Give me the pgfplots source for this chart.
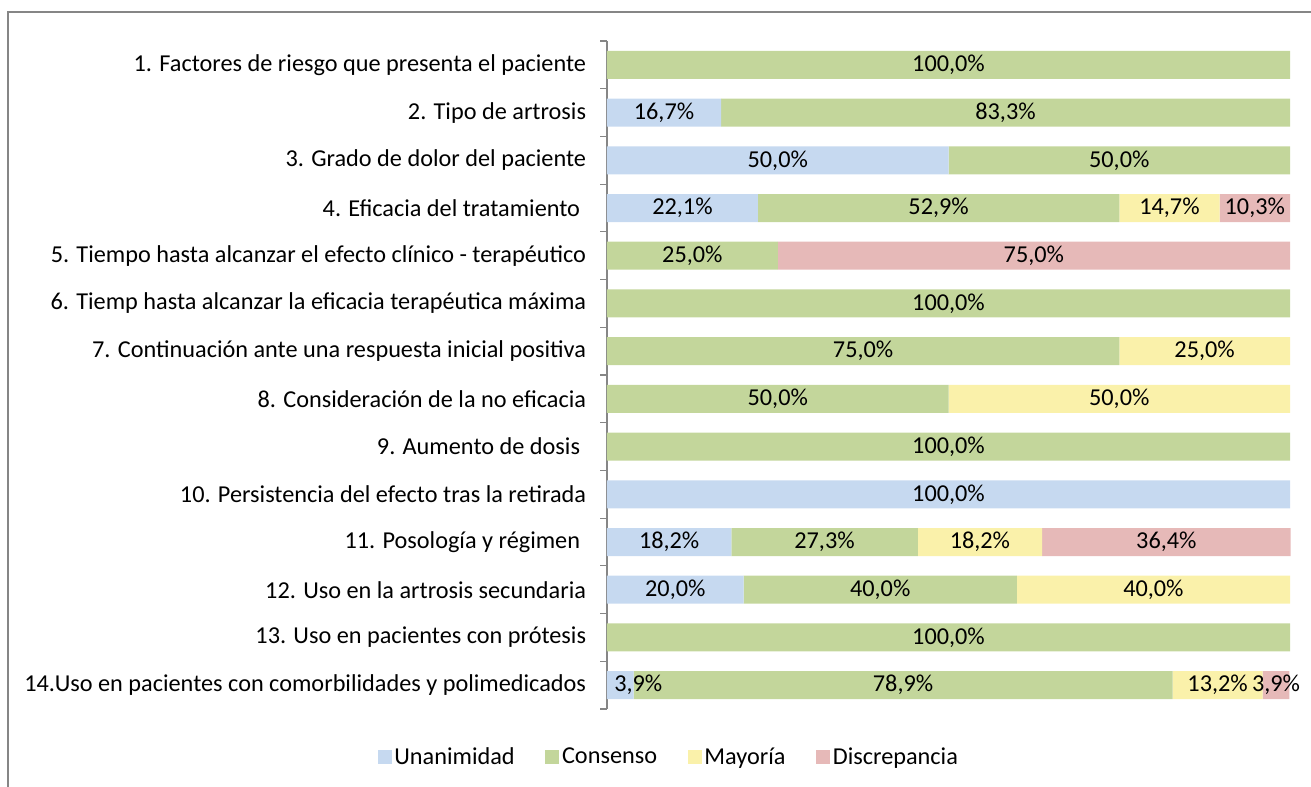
\documentclass[border=0pt]{standalone}
\usepackage{pgfplots}
\usepackage{pgfplotstable}
\pgfplotsset{compat=1.18}
\usepackage{fontspec}
\setmainfont{Carlito}
\definecolor{cU}{RGB}{198,217,240}
\definecolor{cC}{RGB}{195,214,155}
\definecolor{cM}{RGB}{250,241,170}
\definecolor{cD}{RGB}{230,185,184}
\definecolor{frm}{RGB}{134,134,134}
\newcommand{\fs}{\fontsize{18.2}{21}\selectfont}
\pgfplotstableread{
cat U C M D
1 0 100 0 0
2 16.7 83.3 0 0
3 50 50 0 0
4 22.1 52.9 14.7 10.3
5 0 25 0 75
6 0 100 0 0
7 0 75 25 0
8 0 50 50 0
9 0 100 0 0
10 100 0 0 0
11 18.2 27.3 18.2 36.4
12 20 40 40 0
13 0 100 0 0
14 3.9 78.9 13.2 3.9
}\datatable
\begin{document}
\begin{tikzpicture}
\path[use as bounding box] (0,0) rectangle (983.25pt,-590.25pt);
\draw[frm, line width=1.1pt] (6pt,-595pt) -- (6pt,-9pt) -- (990pt,-9pt);
\begin{axis}[
  at={(455.25pt,-531.75pt)}, anchor=south west,
  scale only axis, width=512.25pt, height=501pt,
  xbar stacked, bar width=21pt,
  xmin=0, xmax=100, ymin=0.5, ymax=14.5, y dir=reverse,
  hide x axis,
  axis y line*=left,
  axis line style={frm, line width=0.9pt},
  clip=false,
  ytick={1,...,14},
  yticklabels={
    {1. Factores de riesgo que presenta el paciente},
    {2. Tipo de artrosis},
    {3. Grado de dolor del paciente},
    {4. Eficacia del tratamiento\kern4.5pt},
    {5. Tiempo hasta alcanzar el efecto clínico - terapéutico},
    {6. Tiemp hasta alcanzar la eficacia terapéutica máxima},
    {7. Continuación ante una respuesta inicial positiva},
    {8. Consideración de la no eficacia},
    {9. Aumento de dosis\kern4.5pt},
    {10. Persistencia del efecto tras la retirada},
    {11. Posología y régimen\kern4.5pt},
    {12. Uso en la artrosis secundaria},
    {13. Uso en pacientes con prótesis},
    {14.Uso en pacientes con comorbilidades y polimedicados}},
  major tick length=0pt,
  minor ytick={0.5,1.5,...,14.5},
  minor tick length=5pt,
  tick align=outside,
  minor tick style={frm, line width=0.9pt},
  yticklabel style={font=\fs, inner sep=0pt, anchor=east, xshift=-15.5pt},
  visualization depends on={rawx \as \rawx},
  nodes near coords={\ifdim\rawx pt>0.01pt\pgfmathprintnumber[fixed,fixed zerofill,precision=1,use comma,assume math mode=true]{\rawx}\%\fi},
  every node near coord/.append style={anchor=center, font=\fs, inner sep=0pt, text=black},
  legend style={at={(0.091,-0.072)}, anchor=center, draw=none, legend columns=4, font=\fs,
    /tikz/every even column/.append style={column sep=21pt}},
  legend image code/.code={\fill[#1] (0pt,-5.5pt) rectangle (10.5pt,5pt);},
]
\addplot[fill=cU, draw=none, every node near coord/.append style={xshift={(\rawx<5)*13.5pt}}] table[x=U, y=cat] {\datatable};
\addplot[fill=cC, draw=none] table[x=C, y=cat] {\datatable};
\addplot[fill=cM, draw=none] table[x=M, y=cat] {\datatable};
\addplot[fill=cD, draw=none] table[x=D, y=cat] {\datatable};
\legend{Unanimidad, Consenso, Mayoría, Discrepancia}
\end{axis}
\end{tikzpicture}
\end{document}
